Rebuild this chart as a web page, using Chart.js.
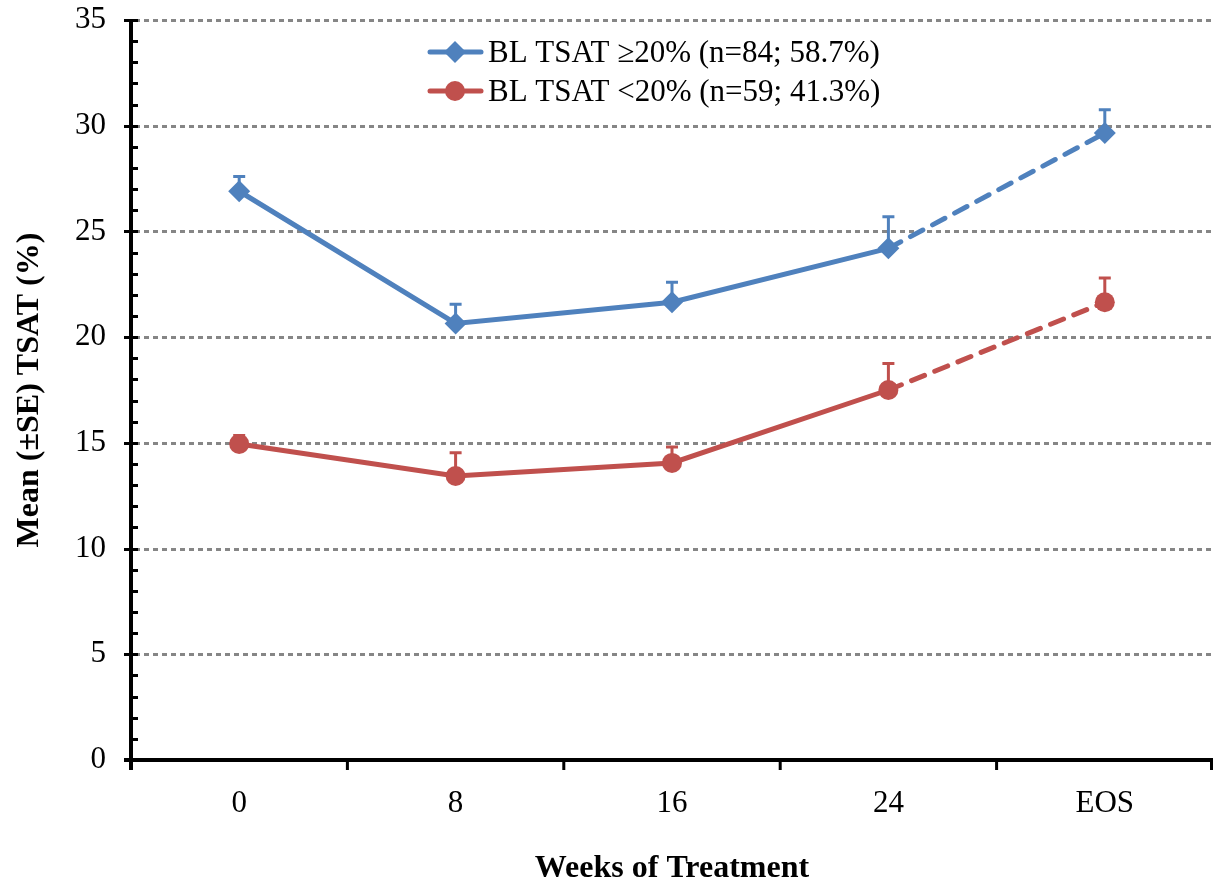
<!DOCTYPE html>
<html>
<head>
<meta charset="utf-8">
<script src="https://cdn.jsdelivr.net/npm/chart.js@4"></script>
<style>
  body { margin: 0; background: #fff; }
</style>
</head>
<body>
<canvas id="chart" width="1213" height="888"></canvas>
<script>
const weeks = ['0', '8', '16', '24', 'EOS'];
const tsatHigh = [26.9, 20.65, 21.65, 24.2, 29.65];
const tsatHighSE = [0.7, 0.9, 0.95, 1.5, 1.1];
const tsatLow = [14.95, 13.43, 14.05, 17.5, 21.65];
const tsatLowSE = [0.4, 1.1, 0.75, 1.25, 1.15];
const yTicks = [0, 5, 10, 15, 20, 25, 30, 35];
const seriesNames = ['BL TSAT \u226520% (n=84; 58.7%)', 'BL TSAT <20% (n=59; 41.3%)'];

const BLUE = '#4f81bd';
const RED = '#c0504d';
const FONT = '"Liberation Serif", "Times New Roman", serif';
const seList = [tsatHighSE, tsatLowSE];

// gridlines + error bars go under the lines
const underlay = {
  id: 'underlay',
  beforeDatasetsDraw(chart) {
    const { ctx, chartArea, scales: { y } } = chart;
    ctx.save();
    ctx.strokeStyle = '#868686';
    ctx.lineWidth = 3;
    ctx.setLineDash([5, 4]);
    yTicks.forEach(v => {
      if (v === 0) return;
      const py = Math.round(y.getPixelForValue(v)) + 0.5;
      ctx.beginPath();
      ctx.moveTo(chartArea.left + 4, py);
      ctx.lineTo(chartArea.right, py);
      ctx.stroke();
    });
    ctx.setLineDash([]);
    chart.data.datasets.forEach((ds, i) => {
      const meta = chart.getDatasetMeta(i);
      ctx.strokeStyle = ds.borderColor;
      ctx.lineWidth = 3;
      meta.data.forEach((pt, j) => {
        const top = y.getPixelForValue(ds.data[j] + seList[i][j]);
        ctx.beginPath();
        ctx.moveTo(pt.x, pt.y);
        ctx.lineTo(pt.x, top);
        ctx.moveTo(pt.x - 6, top);
        ctx.lineTo(pt.x + 6, top);
        ctx.stroke();
      });
    });
    ctx.restore();
  }
};

// axis lines, tick marks and the legend
const overlay = {
  id: 'overlay',
  afterDraw(chart) {
    const { ctx, chartArea, scales: { x, y } } = chart;
    ctx.save();
    ctx.strokeStyle = '#000';
    ctx.lineWidth = 4;
    ctx.beginPath();
    ctx.moveTo(chartArea.left, chartArea.top);
    ctx.lineTo(chartArea.left, chartArea.bottom + 10);
    ctx.moveTo(chartArea.left - 7, chartArea.bottom);
    ctx.lineTo(chartArea.right, chartArea.bottom);
    ctx.stroke();

    ctx.lineWidth = 3;
    ctx.beginPath();
    for (let v = 0; v <= 35; v++) {
      const py = Math.round(y.getPixelForValue(v)) + 0.5;
      ctx.moveTo(v % 5 === 0 ? chartArea.left - 7 : chartArea.left, py);
      ctx.lineTo(chartArea.left + 7, py);
    }
    const step = (chartArea.right - chartArea.left) / weeks.length;
    for (let i = 0; i <= weeks.length; i++) {
      const px = Math.min(chartArea.left + i * step, chartArea.right - 1.5);
      ctx.moveTo(px, chartArea.bottom);
      ctx.lineTo(px, chartArea.bottom + 10);
    }
    ctx.stroke();

    // legend
    ctx.font = '31px ' + FONT;
    ctx.textBaseline = 'middle';
    ctx.fillStyle = '#000';
    chart.data.datasets.forEach((ds, i) => {
      const ly = 52 + i * 39;
      ctx.strokeStyle = ds.borderColor;
      ctx.lineWidth = 5;
      ctx.lineCap = 'round';
      ctx.beginPath();
      ctx.moveTo(430, ly);
      ctx.lineTo(481, ly);
      ctx.stroke();
      ctx.fillStyle = ds.borderColor;
      ctx.beginPath();
      if (ds.pointStyle === 'rectRot') {
        ctx.moveTo(455, ly - 11);
        ctx.lineTo(466, ly);
        ctx.lineTo(455, ly + 11);
        ctx.lineTo(444, ly);
        ctx.closePath();
      } else {
        ctx.arc(455, ly, 10, 0, Math.PI * 2);
      }
      ctx.fill();
      ctx.fillStyle = '#000';
      ctx.fillText(ds.label, 488, ly + 2);
    });
    ctx.restore();
  }
};

const noPad = s => { s.paddingTop = 0; s.paddingBottom = 0; s.paddingLeft = 0; s.paddingRight = 0; };

new Chart(document.getElementById('chart'), {
  type: 'line',
  data: {
    labels: weeks,
    datasets: [
      {
        label: seriesNames[0],
        data: tsatHigh,
        borderColor: BLUE,
        backgroundColor: BLUE,
        borderWidth: 5,
        pointStyle: 'rectRot',
        pointRadius: 11,
        pointBorderWidth: 0,
        borderCapStyle: 'round',
        segment: { borderDash: c => c.p1DataIndex === 4 ? [14, 11] : undefined }
      },
      {
        label: seriesNames[1],
        data: tsatLow,
        borderColor: RED,
        backgroundColor: RED,
        borderWidth: 5,
        pointStyle: 'circle',
        pointRadius: 10,
        pointBorderWidth: 0,
        borderCapStyle: 'round',
        segment: { borderDash: c => c.p1DataIndex === 4 ? [14, 11] : undefined }
      }
    ]
  },
  options: {
    responsive: false,
    animation: false,
    layout: { autoPadding: false, padding: { top: 20, right: 0, left: 0, bottom: 0 } },
    plugins: { legend: { display: false }, tooltip: { enabled: false } },
    scales: {
      x: {
        offset: true,
        grid: { display: false },
        border: { display: false },
        ticks: { color: '#000', font: { family: FONT, size: 31 }, padding: 17 },
        title: {
          display: true, text: 'Weeks of Treatment', color: '#000',
          font: { family: FONT, size: 32, weight: 'bold' }, padding: { top: 0, bottom: 0 }
        },
        afterFit: s => { s.height = 128; noPad(s); }
      },
      y: {
        min: 0, max: 35,
        afterBuildTicks: s => { s.ticks = yTicks.map(v => ({ value: v })); },
        grid: { display: false },
        border: { display: false },
        ticks: { color: '#000', font: { family: FONT, size: 31 }, padding: 17 },
        title: {
          display: true, text: 'Mean (\u00b1SE) TSAT (%)', color: '#000',
          font: { family: FONT, size: 32, weight: 'bold' }, padding: { top: 11, bottom: 0 }
        },
        afterFit: s => { s.width = 131; noPad(s); }
      }
    }
  },
  plugins: [underlay, overlay]
});
</script>
</body>
</html>
